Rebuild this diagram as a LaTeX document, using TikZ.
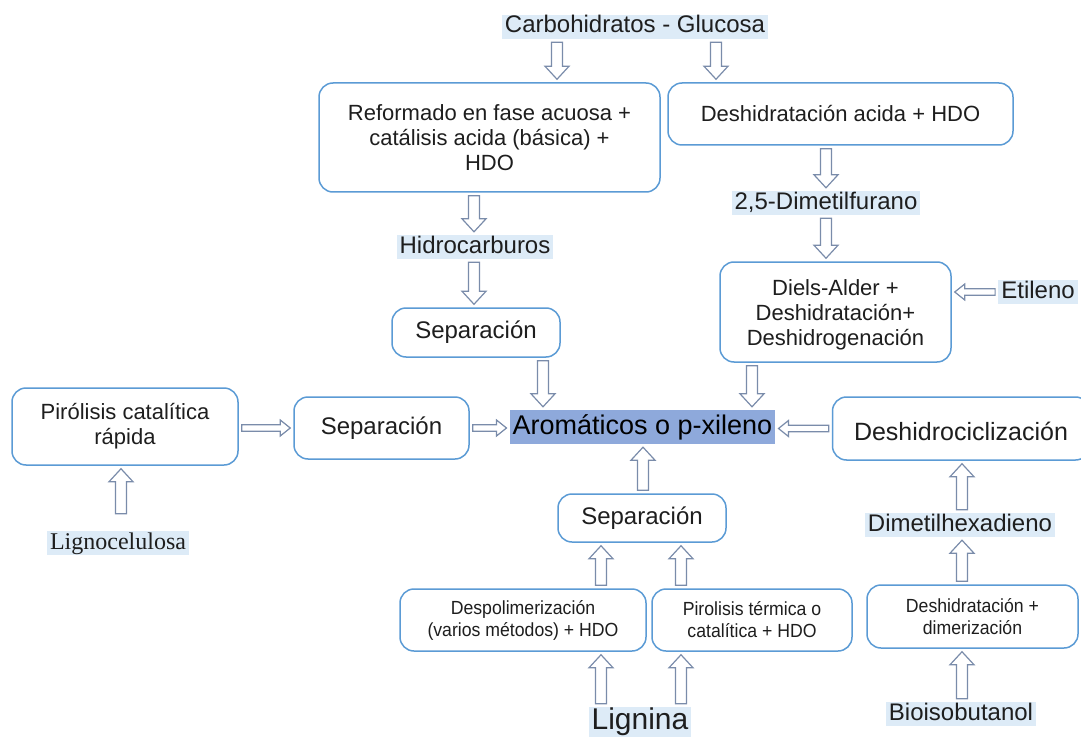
\documentclass[tikz,border=0pt]{standalone}
\usepackage{fontspec}
\setmainfont{Liberation Sans}
\newfontfamily\tnr{Liberation Serif}
\newfontfamily\narrowsans[FakeStretch=0.93]{Liberation Sans}
\usetikzlibrary{calc}
\definecolor{boxblue}{RGB}{91,155,213}
\definecolor{arrowgray}{RGB}{122,140,170}
\definecolor{labelfill}{RGB}{221,235,247}
\definecolor{aromfill}{RGB}{142,169,219}
\definecolor{txt}{RGB}{30,30,30}
\tikzset{
  procbox/.style={draw=boxblue, line width=1.5pt, rounded corners=14pt, fill=white,
    align=center, text=txt, inner sep=2pt},
  lbl/.style={fill=labelfill, text=txt, inner xsep=3pt, inner ysep=0pt,
    text height=18pt, text depth=6pt, font=\fontsize{24}{28}\selectfont},
  fbox22/.style={font=\fontsize{22}{25}\selectfont},
  fbox24/.style={font=\fontsize{24}{28}\selectfont},
  fsmall/.style={font=\narrowsans\fontsize{19}{22}\selectfont},
  blockarrow/.style n args={3}{draw=arrowgray, fill=white, line width=1.2pt, line join=miter,
    to path={
      let \p1=(\tikztostart), \p2=(\tikztotarget),
          \n1={veclen(\x2-\x1,\y2-\y1)},
          \n2={(\x2-\x1)/\n1}, \n3={(\y2-\y1)/\n1}
      in ({\x1+(\n2)*3pt-(\n3)*#1pt},{\y1+(\n3)*3pt+(\n2)*#1pt})
      -- ({\x2-(\n2)*3pt-(\n2)*#3pt-(\n3)*#1pt},{\y2-(\n3)*3pt-(\n3)*#3pt+(\n2)*#1pt})
      -- ({\x2-(\n2)*3pt-(\n2)*#3pt-(\n3)*#2pt},{\y2-(\n3)*3pt-(\n3)*#3pt+(\n2)*#2pt})
      -- ({\x2-(\n2)*3pt},{\y2-(\n3)*3pt})
      -- ({\x2-(\n2)*3pt-(\n2)*#3pt+(\n3)*#2pt},{\y2-(\n3)*3pt-(\n3)*#3pt-(\n2)*#2pt})
      -- ({\x2-(\n2)*3pt-(\n2)*#3pt+(\n3)*#1pt},{\y2-(\n3)*3pt-(\n3)*#3pt-(\n2)*#1pt})
      -- ({\x1+(\n2)*3pt+(\n3)*#1pt},{\y1+(\n3)*3pt-(\n2)*#1pt})
      -- cycle
    }},
  varrow/.style={blockarrow={5.5}{12}{13}},
  harrow/.style={blockarrow={3.3}{8}{10}},
}
\begin{document}
\begin{tikzpicture}[x=1pt,y=-1pt]
\useasboundingbox[fill=white] (0,0) rectangle (1081,738);

% column helpers
\coordinate (xa) at (557,0);
\coordinate (xb) at (716,0);
\coordinate (xc) at (474,0);
\coordinate (xd) at (543,0);
\coordinate (xe) at (826,0);
\coordinate (xf) at (752,0);
\coordinate (xg) at (121,0);
\coordinate (xh) at (643,0);
\coordinate (xi) at (601,0);
\coordinate (xj) at (681,0);
\coordinate (xk) at (962,0);

% nodes
\node[lbl] (carb) at (635,27) {Carbohidratos - Glucosa};
\node[procbox, fbox22, minimum width=341pt, minimum height=109pt] (reform) at (489.5,137.5)
  {Reformado en fase acuosa +\\catálisis acida (básica) +\\HDO};
\node[procbox, fbox22, minimum width=345pt, minimum height=62pt] (deshacida) at (840.5,114)
  {Deshidratación acida + HDO};
\node[lbl] (dmf) at (826,203) {2,5-Dimetilfurano};
\node[procbox, fbox22, minimum width=231pt, minimum height=100pt] (diels) at (835.5,312)
  {\rule{0pt}{22pt}Diels-Alder +\\Deshidratación+\\Deshidrogenación};
\node[lbl] (etileno) at (1038,292) {Etileno};
\node[lbl] (hidro) at (475,247) {Hidrocarburos};
\node[procbox, fbox24, minimum width=168pt, minimum height=49pt] (septop) at (476,332.5) {Separación};
\node[fill=aromfill, text=black, inner xsep=3pt, inner ysep=3pt, text height=21pt, text depth=7pt,
  font=\fontsize{27}{30}\selectfont] (arom) at (642.5,427) {Aromáticos o p-xileno};
\node[procbox, fbox22, minimum width=226pt, minimum height=77pt] (pir) at (125,426.5)
  {Pirólisis catalítica\\rápida};
\node[procbox, fbox24, minimum width=175pt, minimum height=62pt] (sepleft) at (381.5,428) {Separación};
\node[lbl, font=\tnr\fontsize{24}{28}\selectfont] (ligno) at (118,543) {Lignocelulosa};
\node[procbox, font=\fontsize{25}{28}\selectfont, minimum width=257pt, minimum height=63pt] (deshcic) at (961,428.5)
  {\rule{0pt}{24pt}Deshidrociclización};
\node[procbox, fbox24, minimum width=168pt, minimum height=48pt] (sepbot) at (642,518) {Separación};
\node[procbox, fsmall, minimum width=246pt, minimum height=62pt] (despol) at (523,620)
  {Despolimerización\\(varios métodos) + HDO};
\node[procbox, fsmall, minimum width=200pt, minimum height=62pt] (pirter) at (752,620)
  {Pirolisis térmica o\\catalítica + HDO};
\node[lbl, font=\fontsize{30}{34}\selectfont, text height=22pt, text depth=8pt] (lignina) at (640,722) {Lignina};
\node[lbl] (dmh) at (960,525) {Dimetilhexadieno};
\node[procbox, fsmall, minimum width=211pt, minimum height=63pt] (deshdim) at (972.5,616.5)
  {Deshidratación +\\dimerización};
\node[lbl] (bioiso) at (961,714) {Bioisobutanol};

% connectors
\draw[varrow] (carb.south -| xa) to (reform.north -| xa);
\draw[varrow] (carb.south -| xb) to (deshacida.north -| xb);
\draw[varrow] (reform.south -| xc) to (hidro.north -| xc);
\draw[varrow] (hidro.south -| xc) to (septop.north -| xc);
\draw[varrow] (septop.south -| xd) to (arom.north -| xd);
\draw[varrow] (deshacida.south -| xe) to (dmf.north -| xe);
\draw[varrow] (dmf.south -| xe) to (diels.north -| xe);
\draw[harrow] (etileno.west) to (diels.east |- etileno.west);
\draw[varrow] (diels.south -| xf) to (arom.north -| xf);
\draw[harrow] (pir.east |- sepleft.west) to (sepleft.west);
\draw[harrow] (sepleft.east) to (arom.west |- sepleft.east);
\draw[harrow] (deshcic.west) to (arom.east |- deshcic.west);
\draw[varrow] ($(ligno.north -| xg)+(0,-14)$) to (pir.south -| xg);
\draw[varrow] (sepbot.north -| xh) to (arom.south -| xh);
\draw[varrow] (despol.north -| xi) to (sepbot.south -| xi);
\draw[varrow] (pirter.north -| xj) to (sepbot.south -| xj);
\draw[varrow] (lignina.north -| xi) to (despol.south -| xi);
\draw[varrow] (lignina.north -| xj) to (pirter.south -| xj);
\draw[varrow] (dmh.north -| xk) to (deshcic.south -| xk);
\draw[varrow] (deshdim.north -| xk) to (dmh.south -| xk);
\draw[varrow] (bioiso.north -| xk) to (deshdim.south -| xk);
\end{tikzpicture}
\end{document}
